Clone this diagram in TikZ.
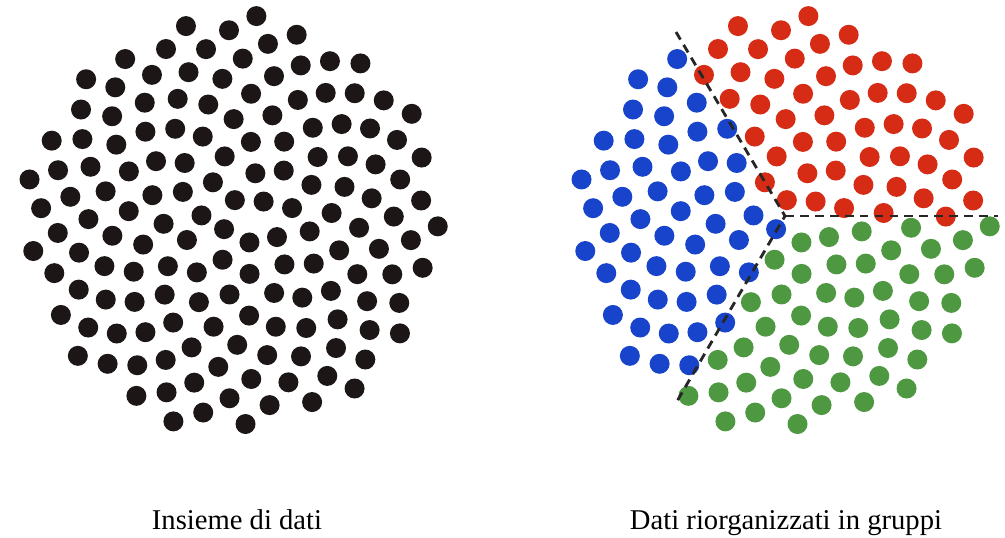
\documentclass[tikz,border=0pt]{standalone}
\usepackage{fontspec}
\setmainfont{Liberation Serif}
\definecolor{dotdark}{RGB}{28,22,22}
\definecolor{grp1}{RGB}{214,44,22}
\definecolor{grp2}{RGB}{24,68,204}
\definecolor{grp3}{RGB}{78,152,66}
\begin{document}
\begin{tikzpicture}[x=0.02cm, y=-0.02cm,
  cutline/.style={draw=black!85, line width=1.6pt, dash pattern=on 5pt off 3.5pt},
  caption/.style={anchor=base, inner sep=0pt, font=\fontsize{16.3}{19}\selectfont}
]
\useasboundingbox (0,0) rectangle (1005,538);

%% --- LEFT: raw data ---
\coordinate (rawc) at (233,221);
\foreach \n in {1,...,150}{
  \pgfmathsetmacro{\ang}{360*(\n*0.381966-floor(\n*0.381966))}
  \pgfmathsetmacro{\rad}{17.1*sqrt(\n-0.5)}
  \fill[dotdark] (rawc) ++(\ang:\rad) circle[radius=0.2cm];
}

%% --- RIGHT: clustered data ---
\coordinate (grpc) at (785,221);
\foreach \n in {1,...,150}{
  \pgfmathsetmacro{\ang}{360*(\n*0.381966-floor(\n*0.381966))}
  \pgfmathsetmacro{\rad}{17.1*sqrt(\n-0.5)}
  \pgfmathtruncatemacro{\grp}{(360-\ang)<120 ? 1 : ((360-\ang)<240 ? 2 : 3)}
  \fill[grp\grp] (grpc) ++(\ang:\rad) circle[radius=0.2cm];
}

%% --- CUT LINES ---
\coordinate (hub) at (785,216);
\coordinate (cutA) at (676,32);
\coordinate (cutB) at (998,216);
\coordinate (cutC) at (676,403);
\draw[cutline] (cutA) -- (hub) -- (cutC);
\draw[cutline] (hub) -- (cutB);

%% --- CAPTIONS ---
\node[caption] (capraw) at (237,529) {Insieme di dati};
\node[caption] (capgrp) at (786,529) {Dati riorganizzati in gruppi};

\end{tikzpicture}
\end{document}
